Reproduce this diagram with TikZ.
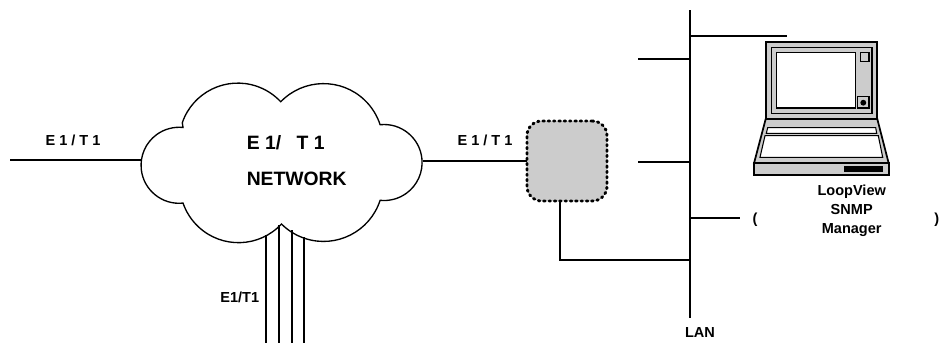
\documentclass[tikz,border=0pt]{standalone}
\usepackage{fontspec}
\setmainfont{Liberation Sans}
\usetikzlibrary{positioning}
\begin{document}
\begin{tikzpicture}[x=0.75pt,y=-0.75pt,every node/.style={outer sep=0pt,inner sep=0pt,font=\fontsize{10.9pt}{14pt}\bfseries},
 wire/.style={line width=1pt},
 thinbox/.style={draw,line width=0.8pt},
 body/.style={draw,line width=1.3pt,fill=black!20},
 hub/.style={draw,fill=black!20,line width=2.2pt,line cap=round,dash pattern=on 1.1pt off 2.9pt,rounded corners=11pt,minimum width=60pt,minimum height=60pt},
 bigtext/.style={font=\fontsize{14.5pt}{18pt}\bfseries},
 lbl/.style={anchor=base}]
  \useasboundingbox (0,0) rectangle (940,343);

  % cloud
  \draw[line width=1pt] (182.3,122.7) arc[start angle=199,end angle=317,radius=58.7]
   arc[start angle=224,end angle=342,radius=59.5]
   arc[start angle=264,end angle=456,radius=38]
   arc[start angle=18,end angle=135,radius=59.5]
   arc[start angle=43,end angle=161,radius=58.7]
   arc[start angle=84,end angle=276,radius=38] -- cycle;
  \node[minimum width=211.5pt,minimum height=116pt] (net) at (281.5,161) {};
  \node[bigtext,lbl] (nettitle) at (285.7,149.3) {E 1/\hspace{0.8em}T 1};
  \node[bigtext,lbl] (netname) at (296.7,185) {NETWORK};

  % hub and lan
  \node[hub] (hub) at (567,161) {};
  \coordinate (lantop) at (690,10);
  \coordinate (lanbot) at (690,318);
  \draw[wire] (lantop) -- (lanbot);
  \node[lbl] (lanlbl) at (700,337) {LAN};

  \coordinate (west) at (10,160);
  \draw[wire] (west) -- (west-|net.west);
  \node[lbl] (westlbl) at (73,145) {E 1 / T 1};
  \draw[wire] (net.east) -- (hub.west);
  \node[lbl] (hublbl) at (485,145) {E 1 / T 1};

  % tributaries
  \foreach \X/\Y in {266/235,279/225,292/230,304/237}
   \draw[wire] (\X,\Y) -- (\X,343);
  \node[lbl] (triblbl) at (239.7,302.3) {E1/T1};

  \draw[wire] (hub.south-|560,0) |- (lanbot|-0,260);
  \draw[wire] (lantop|-0,36) -- (787,36);
  \draw[wire] (638,59) -- (lantop|-0,59);
  \draw[wire] (638,162) -- (lantop|-0,162);
  \draw[wire] (lantop|-0,218) -- (740,218);

  % laptop
  \draw[body] (765.7,41.7) rectangle (877.3,119);
  \draw[thinbox,line width=1pt] (771.3,47.3) rectangle (872,113.7);
  \draw[thinbox,fill=white] (776.7,52.7) rectangle (855.3,108);
  \draw[thinbox] (860.3,52.7) rectangle (869,61.3);
  \draw[thinbox] (857.7,96.7) rectangle (869,108);
  \fill (863.3,102.7) circle (2.2pt);
  \draw[body] (765.7,119) -- (877.3,119) -- (888.7,163.3) -- (754,163.3) -- cycle;
  \draw[thinbox,fill=white] (767.7,127.7) -- (875.7,127.7) -- (876.7,133.3) -- (766.3,133.3) -- cycle;
  \draw[thinbox,fill=white] (765,135.7) -- (878.3,135.7) -- (882.7,157.3) -- (760,157.3) -- cycle;
  \draw[body] (754,163.3) rectangle (888.7,174.7);
  \fill (843.7,165.7) rectangle (883.3,172.3);

  \node[lbl] (mgrtop) at (851.7,195.7) {LoopView};
  \node[lbl] (mgrmid) at (851.7,214.3) {SNMP};
  \node[lbl] (mgrbot) at (851.7,233) {Manager};
  \node (lparen) at (755,220) {(};
  \node (rparen) at (936.7,220) {)};
\end{tikzpicture}
\end{document}
